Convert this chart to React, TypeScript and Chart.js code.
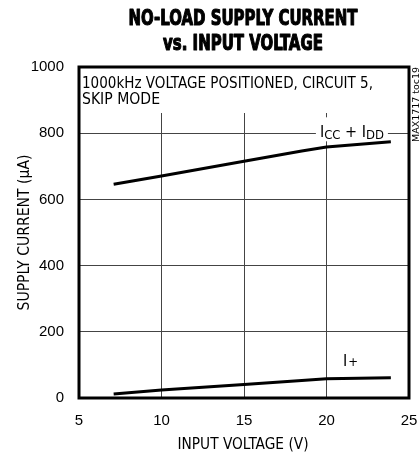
import React, { useEffect, useRef } from "react";
import { Chart, registerables } from "chart.js";

Chart.register(...registerables);

// ---- data ----
const voltage = [7.1, 10, 15, 18.5, 20, 23.9];
const iccPlusIdd = [646, 671, 715, 746, 758, 774];
const iPlus = [12, 24, 41, 53, 58, 61];
const xTicks = [5, 10, 15, 20, 25];
const yTicks = [0, 200, 400, 600, 800, 1000];
const titleLines = ["NO-LOAD SUPPLY CURRENT", "vs. INPUT VOLTAGE"];
const noteLines = ["1000kHz VOLTAGE POSITIONED, CIRCUIT 5,", "SKIP MODE"];
const xTitle = "INPUT VOLTAGE (V)";
const yTitle = "SUPPLY CURRENT (\u00b5A)";
const figureId = "MAX1717 toc19";

const NARROW = '"Liberation Sans Narrow", "Arial Narrow", "DejaVu Sans Condensed", sans-serif';
const REG = '"Liberation Sans", Arial, sans-serif';

function fitText(
  ctx: CanvasRenderingContext2D,
  text: string,
  x: number,
  y: number,
  width: number,
  font: string,
  align: CanvasTextAlign,
  rotate = 0,
  stroke = 0
) {
  ctx.save();
  ctx.font = font;
  const w = ctx.measureText(text).width;
  const s = width / w;
  ctx.translate(x, y);
  if (rotate) ctx.rotate(rotate);
  ctx.scale(s, 1);
  ctx.textAlign = align;
  ctx.textBaseline = "alphabetic";
  ctx.fillStyle = "#000";
  ctx.fillText(text, 0, 0);
  if (stroke) {
    ctx.strokeStyle = "#000";
    ctx.lineWidth = stroke;
    ctx.lineJoin = "round";
    ctx.strokeText(text, 0, 0);
  }
  ctx.restore();
}

const decorations = {
  id: "decorations",
  beforeDatasetsDraw(chart: any) {
    const ctx = chart.ctx as CanvasRenderingContext2D;
    const a = chart.chartArea;
    const xs = chart.scales.x;
    const ys = chart.scales.y;
    ctx.save();
    ctx.fillStyle = "#fff";
    // note background
    ctx.fillRect(a.left + 1, a.top + 1, 300, 112 - a.top);
    // Icc + Idd label background
    const lx = xs.getPixelForValue(19.6);
    ctx.fillRect(lx - 4, ys.getPixelForValue(848), 72, 24);
    ctx.restore();
  },
  afterDraw(chart: any) {
    const ctx = chart.ctx as CanvasRenderingContext2D;
    const a = chart.chartArea;
    const xs = chart.scales.x;
    const ys = chart.scales.y;
    // frame
    ctx.save();
    ctx.strokeStyle = "#000";
    ctx.lineWidth = 3;
    ctx.strokeRect(a.left, a.top, a.right - a.left, a.bottom - a.top);
    ctx.restore();

    // title (heavy condensed)
    const tf = `bold 21px ${NARROW}`;
    ctx.save();
    ctx.font = tf;
    const s = 229 / ctx.measureText(titleLines[0]).width;
    ctx.restore();
    const cx = (a.left + a.right) / 2 - 1;
    titleLines.forEach((t, i) => {
      ctx.save();
      ctx.font = tf;
      const w = ctx.measureText(t).width * s;
      ctx.restore();
      fitText(ctx, t, cx, 25 + i * 25, w, tf, "center", 0, 1.1);
    });

    // note
    fitText(ctx, noteLines[0], a.left + 3, 88, 291, `16px ${NARROW}`, "left");
    fitText(ctx, noteLines[1], a.left + 3, 104, 78, `16px ${NARROW}`, "left");

    // axis titles
    fitText(ctx, xTitle, cx, 449, 131, `16px ${NARROW}`, "center");
    fitText(ctx, yTitle, 29, (a.top + a.bottom) / 2, 156, `16px ${NARROW}`, "center", -Math.PI / 2);

    // figure id
    fitText(ctx, figureId, 418.5, 142, 75, `9px ${NARROW}`, "left", -Math.PI / 2);

    // series labels
    const f1 = `16px ${NARROW}`;
    const f2 = `13px ${NARROW}`;
    ctx.save();
    ctx.fillStyle = "#000";
    let x = xs.getPixelForValue(19.6);
    let y = ys.getPixelForValue(790);
    const parts: [string, string, number][] = [
      ["I", f1, 0],
      ["CC", f2, 2],
      [" + ", f1, 0],
      ["I", f1, 0],
      ["DD", f2, 2],
    ];
    ctx.textBaseline = "alphabetic";
    for (const [t, f, dy] of parts) {
      ctx.font = f;
      ctx.fillText(t, x, y + dy);
      x += ctx.measureText(t).width;
    }
    x = xs.getPixelForValue(21.0);
    y = ys.getPixelForValue(98);
    ctx.font = f1;
    ctx.fillText("I", x, y);
    x += ctx.measureText("I").width + 1;
    ctx.font = f2;
    ctx.fillText("+", x, y);
    ctx.restore();
  },
};

export default function App() {
  const ref = useRef<HTMLCanvasElement>(null);
  useEffect(() => {
    if (!ref.current) return;
    const chart = new Chart(ref.current, {
      type: "line",
      data: {
        datasets: [
          {
            label: "ICC + IDD",
            data: voltage.map((v, i) => ({ x: v, y: iccPlusIdd[i] })),
            borderColor: "#000",
            borderWidth: 3,
            pointRadius: 0,
            tension: 0,
          },
          {
            label: "I+",
            data: voltage.map((v, i) => ({ x: v, y: iPlus[i] })),
            borderColor: "#000",
            borderWidth: 3,
            pointRadius: 0,
            tension: 0,
          },
        ],
      },
      options: {
        animation: false,
        responsive: false,
        maintainAspectRatio: false,
        layout: { autoPadding: false, padding: { top: 67, right: 10, left: 0, bottom: 0 } },
        plugins: {
          legend: { display: false },
          title: { display: false },
          tooltip: { enabled: false },
        },
        scales: {
          x: {
            type: "linear",
            min: xTicks[0],
            max: xTicks[xTicks.length - 1],
            afterBuildTicks: (sc: any) => {
              sc.ticks = xTicks.map((v) => ({ value: v }));
            },
            afterFit: (sc: any) => {
              sc.height = 62;
              sc.paddingLeft = 0;
              sc.paddingRight = 0;
            },
            grid: { color: "#444", lineWidth: 1, drawTicks: false },
            border: { display: false },
            ticks: {
              padding: 14,
              color: "#000",
              font: { family: REG, size: 15 },
              maxRotation: 0,
              callback: (v: any) => String(v),
            },
          },
          y: {
            type: "linear",
            min: yTicks[0],
            max: yTicks[yTicks.length - 1],
            afterBuildTicks: (sc: any) => {
              sc.ticks = yTicks.map((v) => ({ value: v }));
            },
            afterFit: (sc: any) => {
              sc.width = 79;
              sc.paddingTop = 0;
              sc.paddingBottom = 0;
            },
            grid: { color: "#444", lineWidth: 1, drawTicks: false },
            border: { display: false },
            ticks: {
              padding: 15,
              color: "#000",
              font: { family: REG, size: 15 },
              callback: (v: any) => String(v),
            },
          },
        },
      },
      plugins: [decorations],
    });
    return () => chart.destroy();
  }, []);
  return (
    <div style={{ position: "fixed", left: 0, top: 0, width: 419, height: 460, background: "#fff" }}>
      <canvas ref={ref} width={419} height={460} style={{ width: 419, height: 460 }} />
    </div>
  );
}
